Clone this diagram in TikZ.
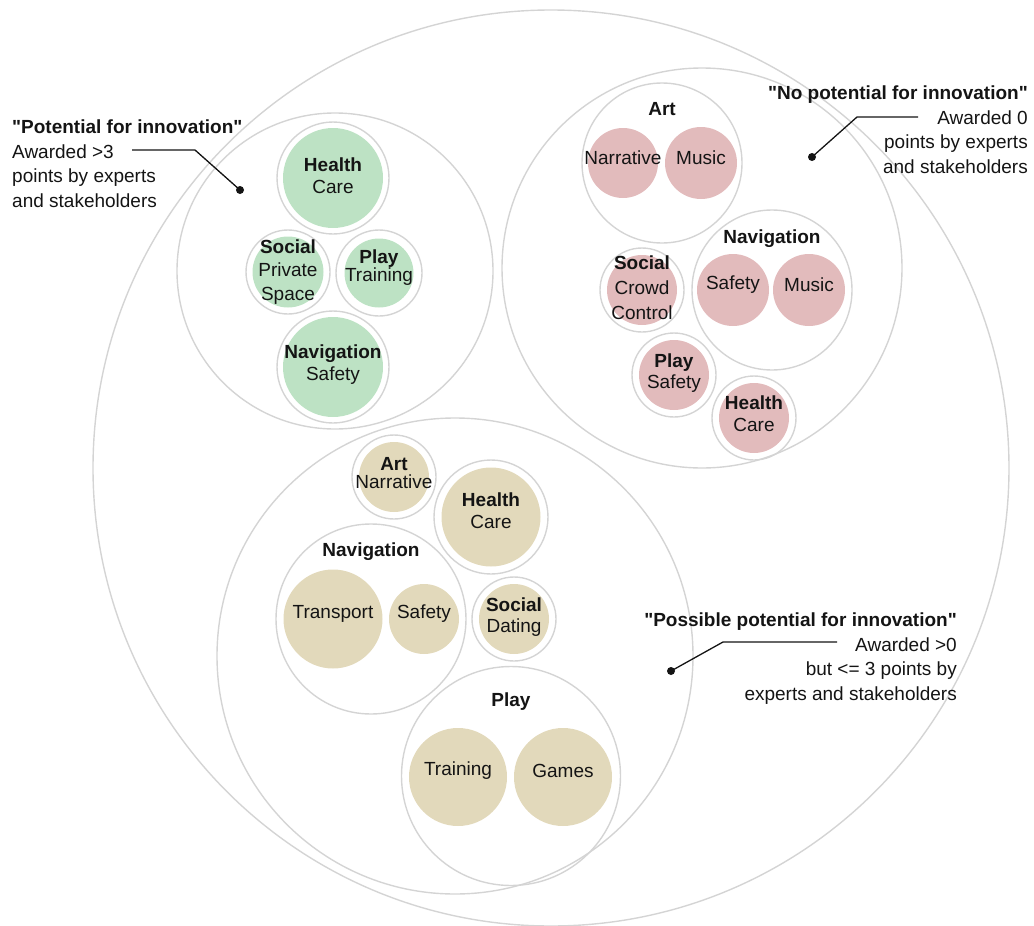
\documentclass[tikz,border=0pt]{standalone}
\usepackage{fontspec}
\setmainfont{Liberation Sans}[Ligatures=TeXOff]
\usetikzlibrary{positioning}
\definecolor{ringgray}{RGB}{212,212,212}
\definecolor{ink}{RGB}{20,20,20}
\definecolor{greenfill}{RGB}{189,226,196}
\definecolor{redfill}{RGB}{226,187,188}
\definecolor{beigefill}{RGB}{226,217,187}
\tikzset{
  ring/.style={circle, draw=ringgray, line width=1.4pt, inner sep=0pt},
  blob/.style={circle, inner sep=0pt, draw=none},
  txt/.style={align=center, inner sep=0pt, text=ink, font=\fontsize{19}{22}\selectfont},
  head/.style={txt, font=\fontsize{19}{22}\selectfont\bfseries},
  note/.style={inner sep=0pt, text=ink, font=\fontsize{19}{24.5}\selectfont},
  leader/.style={draw=ink, line width=1.3pt},
}

\begin{document}
\begin{tikzpicture}[x=1pt, y=-1pt]
\useasboundingbox (0,0) rectangle (1034,926);

% outer circle
\node[ring, minimum size=916pt] (all) at (551,468) {};

% green group: potential for innovation
\node[ring, minimum size=316pt] (green) at (335,271) {};
\node[ring, minimum size=112pt] (gHealthRing) at (333,178) {};
\node[blob, fill=greenfill, minimum size=100pt] (gHealth) at (gHealthRing) {};
\node[txt, yshift=2pt] (gHealthTxt) at (gHealth) {\textbf{Health}\\Care};
\node[ring, minimum size=84pt] (gSocialRing) at (288,272) {};
\node[blob, fill=greenfill, minimum size=71pt] (gSocial) at (gSocialRing) {};
\node[txt, yshift=0pt] (gSocialTxt) at (gSocial) {\textbf{Social}\\[1.5pt]Private\\[1.5pt]Space};
\node[ring, minimum size=86pt] (gPlayRing) at (379,273) {};
\node[blob, fill=greenfill, minimum size=69pt] (gPlay) at (gPlayRing) {};
\node[txt, yshift=5pt] (gPlayTxt) at (gPlay) {\textbf{Play}\\[-4pt]Training};
\node[ring, minimum size=112pt] (gNavRing) at (333,367) {};
\node[blob, fill=greenfill, minimum size=100pt] (gNav) at (gNavRing) {};
\node[txt, yshift=2pt] (gNavTxt) at (gNav) {\textbf{Navigation}\\Safety};

% red group: no potential
\node[ring, minimum size=400pt] (red) at (702,268) {};
\node[ring, minimum size=160pt] (rArt) at (662,163) {};
\node[head, below=20pt of rArt.north] (rArtHead) {Art};
\node[blob, fill=redfill, minimum size=70pt] (rArtNarr) at (623,163) {};
\node[blob, fill=redfill, minimum size=72pt] (rArtMusic) at (701,163) {};
\node[txt, yshift=5pt] (rArtNarrTxt) at (rArtNarr) {Narrative};
\node[txt, yshift=5pt] (rArtMusicTxt) at (rArtMusic) {Music};
\node[ring, minimum size=160pt] (rNav) at (772,290) {};
\node[head, below=20pt of rNav.north] (rNavHead) {Navigation};
\node[blob, fill=redfill, minimum size=72pt] (rNavSafety) at (733,290) {};
\node[blob, fill=redfill, minimum size=72pt] (rNavMusic) at (809,290) {};
\node[txt, yshift=5pt] (rNavSafetyTxt) at (rNavSafety) {Safety};
\node[txt, yshift=5pt] (rNavMusicTxt) at (rNavMusic) {Music};
\node[ring, minimum size=84pt] (rSocialRing) at (642,290) {};
\node[blob, fill=redfill, minimum size=70pt] (rSocial) at (rSocialRing) {};
\node[txt, yshift=2pt] (rSocialTxt) at (rSocial) {\textbf{Social}\\[3pt]Crowd\\[3pt]Control};
\node[ring, minimum size=84pt] (rPlayRing) at (674,375) {};
\node[blob, fill=redfill, minimum size=70pt] (rPlay) at (rPlayRing) {};
\node[txt, yshift=2pt] (rPlayTxt) at (rPlay) {\textbf{Play}\\[-1pt]Safety};
\node[ring, minimum size=84pt] (rHealthRing) at (754,418) {};
\node[blob, fill=redfill, minimum size=70pt] (rHealth) at (rHealthRing) {};
\node[txt, yshift=4pt] (rHealthTxt) at (rHealth) {\textbf{Health}\\Care};

% beige group: possible potential
\node[ring, minimum size=476pt] (beige) at (455,656) {};
\node[ring, minimum size=84pt] (bArtRing) at (394,477) {};
\node[blob, fill=beigefill, minimum size=70pt] (bArt) at (bArtRing) {};
\node[txt, yshift=4pt] (bArtTxt) at (bArt) {\textbf{Art}\\[-4pt]Narrative};
\node[ring, minimum size=114pt] (bHealthRing) at (491,517) {};
\node[blob, fill=beigefill, minimum size=99pt] (bHealth) at (bHealthRing) {};
\node[txt, yshift=6pt] (bHealthTxt) at (bHealth) {\textbf{Health}\\Care};
\node[ring, minimum size=190pt] (bNav) at (371,619) {};
\node[head, below=19pt of bNav.north] (bNavHead) {Navigation};
\node[blob, fill=beigefill, minimum size=99pt] (bNavTransport) at (333,619) {};
\node[blob, fill=beigefill, minimum size=70pt] (bNavSafety) at (424,619) {};
\node[txt, yshift=5pt] (bNavTransportTxt) at (bNavTransport) {Transport};
\node[txt, yshift=5pt] (bNavSafetyTxt) at (bNavSafety) {Safety};
\node[ring, minimum size=84pt] (bSocialRing) at (514,619) {};
\node[blob, fill=beigefill, minimum size=70pt] (bSocial) at (bSocialRing) {};
\node[txt, yshift=2pt] (bSocialTxt) at (bSocial) {\textbf{Social}\\[-1pt]Dating};
\node[ring, minimum size=219pt] (bPlay) at (511,776) {};
\node[head, below=27pt of bPlay.north] (bPlayHead) {Play};
\node[blob, fill=beigefill, minimum size=98pt] (bPlayTraining) at (458,777) {};
\node[blob, fill=beigefill, minimum size=98pt] (bPlayGames) at (563,777) {};
\node[txt, yshift=6pt] (bPlayTrainingTxt) at (bPlayTraining) {Training};
\node[txt, yshift=6pt] (bPlayGamesTxt) at (bPlayGames) {Games};

% annotations
\node[note, align=left, anchor=north west] (gNote) at (12,120)
  {\textbf{"Potential for innovation"}\\Awarded >3\\points by experts\\and stakeholders};
\node[note, align=right, anchor=north east] (rNote) at (1028,86)
  {\textbf{"No potential for innovation"}\\Awarded 0\\points by experts\\and stakeholders};
\node[note, align=right, anchor=north east] (bNote) at (957,613)
  {\textbf{"Possible potential for innovation"}\\Awarded >0\\but <= 3 points by\\experts and stakeholders};

\coordinate (gFrom) at (132,150);
\coordinate (gBend) at (195,150);
\coordinate (gDot) at (240,190);
\coordinate (rFrom) at (918,117);
\coordinate (rBend) at (857,117);
\coordinate (rDot) at (812,157);
\coordinate (bFrom) at (837,642);
\coordinate (bBend) at (723,642);
\coordinate (bDot) at (671,671);
\draw[leader] (gFrom) -- (gBend) -- (gDot);
\draw[leader] (rFrom) -- (rBend) -- (rDot);
\draw[leader] (bFrom) -- (bBend) -- (bDot);
\foreach \d in {gDot, rDot, bDot}
  \fill[ink] (\d) circle (4pt);
\end{tikzpicture}
\end{document}
